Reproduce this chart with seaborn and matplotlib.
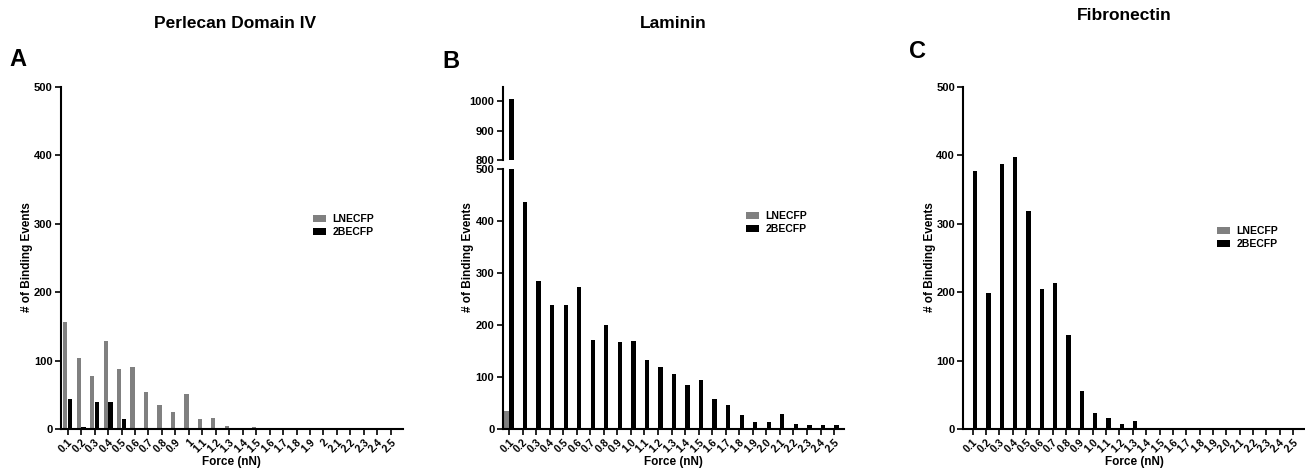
import pandas as pd
import numpy as np
import seaborn as sns
import matplotlib
matplotlib.use("Agg")
import matplotlib.pyplot as plt

sns.set_style("ticks")
plt.rcParams['font.family'] = ['Liberation Sans', 'DejaVu Sans']
plt.rcParams['font.weight'] = 'bold'
plt.rcParams['axes.labelweight'] = 'bold'
for k in ['text.color', 'axes.labelcolor', 'xtick.color', 'ytick.color', 'axes.edgecolor']:
    plt.rcParams[k] = 'black'

# x categories (Force, nN)
force_a = ['0.1', '0.2', '0.3', '0.4', '0.5', '0.6', '0.7', '0.8', '0.9', '1',
           '1.1', '1.2', '1.3', '1.4', '1.5', '1.6', '1.7', '1.8', '1.9', '2',
           '2.1', '2.2', '2.3', '2.4', '2.5']
force_bc = ['0.1', '0.2', '0.3', '0.4', '0.5', '0.6', '0.7', '0.8', '0.9', '1.0',
            '1.1', '1.2', '1.3', '1.4', '1.5', '1.6', '1.7', '1.8', '1.9', '2.0',
            '2.1', '2.2', '2.3', '2.4', '2.5']
series = ['LNECFP', '2BECFP']

# A - Perlecan Domain IV
perlecan_lne = [156, 104, 78, 128, 88, 90, 54, 35, 25, 51, 15, 16, 5, 0, 3,
                0, 0, 0, 0, 0, 0, 0, 0, 0, 0]
perlecan_2be = [44, 3, 40, 39, 15, 0, 0, 0, 0, 0, 0, 0, 0, 0, 0,
                0, 0, 0, 0, 0, 0, 0, 0, 0, 0]
# B - Laminin
laminin_lne = [34, 0, 0, 0, 0, 0, 0, 0, 0, 0, 0, 0, 0, 0, 0,
               0, 0, 0, 0, 0, 0, 0, 0, 0, 0]
laminin_2be = [1007, 438, 285, 239, 238, 274, 171, 201, 167, 169, 132, 119, 106, 84, 95,
               57, 47, 27, 13, 13, 28, 10, 7, 7, 7]
# C - Fibronectin
fibro_lne = [0] * 25
fibro_2be = [377, 199, 388, 398, 319, 204, 214, 138, 55, 23, 16, 7, 11, 0, 0,
             0, 0, 0, 0, 0, 0, 0, 0, 0, 0]

pal = {'LNECFP': '#808080', '2BECFP': '#000000'}


def make_df(labels, lne, tbe):
    return pd.DataFrame({
        'Force': labels * 2,
        'Series': ['LNECFP'] * len(labels) + ['2BECFP'] * len(labels),
        'Count': list(lne) + list(tbe),
    })


def bars(ax, df):
    sns.barplot(data=df, x='Force', y='Count', hue='Series', hue_order=series,
                palette=pal, width=0.72, gap=0.12, linewidth=0, ax=ax,
                legend=True)


def style(ax, labels, xlim):
    for s in ['top', 'right']:
        ax.spines[s].set_visible(False)
    for s in ['left', 'bottom']:
        ax.spines[s].set_linewidth(1.5)
    ax.tick_params(axis='both', width=1.2, length=4, labelsize=8, pad=2)
    ax.set_xlim(*xlim)
    ax.set_xticks(range(len(labels)))
    ax.set_xticklabels(labels, rotation=45, ha='right', rotation_mode='anchor',
                       fontsize=7.5, fontweight='bold')
    for t in ax.get_yticklabels():
        t.set_fontweight('bold')
    ax.set_xlabel('Force (nN)', fontsize=8.5, fontweight='bold', labelpad=1)
    ax.set_ylabel('')


def legend(ax, anchor):
    h, l = ax.get_legend_handles_labels()
    ax.legend(h, l, loc='upper left', bbox_to_anchor=anchor, frameon=False,
              prop={'size': 7.5, 'weight': 'bold'}, handlelength=1.25,
              handleheight=0.6, labelspacing=0.3, handletextpad=0.6,
              borderaxespad=0)


fig = plt.figure(figsize=(13.05, 4.69), dpi=100)

# panel A
axA = fig.add_axes([0.0467, 0.0853, 0.262, 0.729])
bars(axA, make_df(force_a, perlecan_lne, perlecan_2be))
axA.set_ylim(0, 500)
axA.set_yticks([0, 100, 200, 300, 400, 500])
style(axA, force_a, (-0.5, 24.9))
legend(axA, (0.725, 0.64))

# panel B (broken axis)
axB = fig.add_axes([0.3852, 0.0853, 0.2618, 0.5537])
dfB = make_df(force_bc, laminin_lne, laminin_2be)
bars(axB, dfB)
axB.set_ylim(0, 500)
axB.set_yticks([0, 100, 200, 300, 400, 500])
style(axB, force_bc, (-0.47, 24.76))
legend(axB, (0.70, 0.855))

axB2 = fig.add_axes([0.3852, 0.6582, 0.2618, 0.157])
bars(axB2, dfB)
axB2.get_legend().remove()
axB2.set_ylim(800, 1050)
axB2.set_yticks([800, 900, 1000])
axB2.set_xlim(-0.47, 24.76)
for s in ['top', 'right', 'bottom']:
    axB2.spines[s].set_visible(False)
axB2.spines['left'].set_linewidth(1.5)
axB2.tick_params(axis='y', width=1.2, length=4, labelsize=8, pad=2)
axB2.tick_params(axis='x', bottom=False, labelbottom=False)
for t in axB2.get_yticklabels():
    t.set_fontweight('bold')
axB2.set_xlabel('')
axB2.set_ylabel('')

# panel C
axC = fig.add_axes([0.7382, 0.0853, 0.2618, 0.729])
bars(axC, make_df(force_bc, fibro_lne, fibro_2be))
axC.set_ylim(0, 500)
axC.set_yticks([0, 100, 200, 300, 400, 500])
style(axC, force_bc, (-0.7, 24.9))
legend(axC, (0.73, 0.605))

# y labels
for x in [27, 468, 930]:
    fig.text(x / 1305, 1 - 257 / 469, '# of Binding Events', rotation=90,
             ha='center', va='center', fontsize=8.5, fontweight='bold')

# titles and panel letters
for x, y, txt in [(235, 24, 'Perlecan Domain IV'), (673, 24, 'Laminin'),
                  (1124, 16, 'Fibronectin')]:
    fig.text(x / 1305, 1 - y / 469, txt, ha='center', va='center',
             fontsize=12.5, fontweight='bold')
for x, y, txt in [(18, 60, 'A'), (451, 62, 'B'), (917, 52, 'C')]:
    fig.text(x / 1305, 1 - y / 469, txt, ha='center', va='center',
             fontsize=17, fontweight='bold')

fig.savefig('out.png', dpi=100)
